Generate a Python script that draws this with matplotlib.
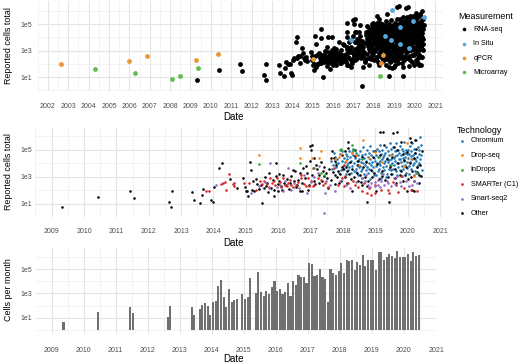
import matplotlib
matplotlib.use('Agg')
import matplotlib.pyplot as plt
from matplotlib.ticker import NullFormatter
import numpy as np

plt.rcParams['font.family'] = ['Liberation Sans', 'DejaVu Sans']

# ---------------- data (decimal year, log10 cells) ----------------
chromium = [
(2017.62,4.2),(2017.68,3.9),(2017.74,4.5),(2017.78,3.7),(2017.82,4.3),(2017.86,4.0),(2017.9,4.7),(2017.93,3.5),
(2017.96,4.2),(2017.99,3.8),(2017.71,4.8),(2017.88,3.3),(2017.65,3.6),(2017.97,4.9),(2017.8,4.05),
(2018.02,4.4),(2018.04,3.6),(2018.06,4.1),(2018.08,3.2),(2018.1,4.7),(2018.12,3.9),(2018.13,4.3),(2018.15,3.5),
(2018.17,4.0),(2018.19,4.9),(2018.2,3.7),(2018.22,4.5),(2018.24,3.3),(2018.26,4.2),(2018.28,3.8),(2018.3,4.6),
(2018.31,5.1),(2018.33,3.4),(2018.35,4.0),(2018.37,4.4),(2018.39,3.6),(2018.41,4.8),(2018.42,3.9),(2018.44,4.2),
(2018.46,3.1),(2018.47,4.6),(2018.49,3.7),(2018.14,4.55),(2018.27,4.85),(2018.4,3.35),
(2018.51,4.3),(2018.52,3.8),(2018.54,4.9),(2018.55,3.4),(2018.57,4.1),(2018.58,4.6),(2018.6,3.6),(2018.61,5.2),
(2018.63,4.0),(2018.64,3.2),(2018.66,4.4),(2018.67,3.9),(2018.69,4.7),(2018.7,3.5),(2018.72,4.2),(2018.73,5.0),
(2018.75,3.7),(2018.76,4.5),(2018.78,3.3),(2018.79,4.0),(2018.81,4.8),(2018.82,3.6),(2018.84,4.3),(2018.85,5.3),
(2018.87,3.9),(2018.88,4.6),(2018.9,3.4),(2018.91,4.1),(2018.93,4.9),(2018.94,3.7),(2018.96,4.4),(2018.97,3.1),
(2018.99,4.2),(2018.59,2.9),(2018.83,2.8),
(2019.01,4.6),(2019.02,3.8),(2019.04,5.1),(2019.05,4.0),(2019.07,3.4),(2019.08,4.5),(2019.1,4.9),(2019.11,3.6),
(2019.13,4.2),(2019.14,5.4),(2019.16,3.9),(2019.17,4.7),(2019.19,3.3),(2019.2,4.3),(2019.22,5.0),(2019.23,3.7),
(2019.25,4.5),(2019.26,4.0),(2019.28,3.5),(2019.29,4.8),(2019.31,4.2),(2019.32,5.2),(2019.34,3.8),(2019.35,4.4),
(2019.37,3.2),(2019.38,4.9),(2019.4,4.1),(2019.41,3.6),(2019.43,4.6),(2019.44,5.5),(2019.46,3.9),(2019.47,4.3),
(2019.49,3.5),(2019.03,3.1),(2019.18,2.9),(2019.33,3.0),(2019.12,4.05),(2019.27,4.65),(2019.42,4.25),(2019.48,5.05),
(2019.51,4.7),(2019.52,4.0),(2019.54,5.2),(2019.55,3.6),(2019.57,4.4),(2019.58,3.9),(2019.6,4.9),(2019.61,4.2),
(2019.63,5.5),(2019.64,3.4),(2019.66,4.6),(2019.67,4.0),(2019.69,5.0),(2019.7,3.7),(2019.72,4.3),(2019.73,4.8),
(2019.75,3.5),(2019.76,5.3),(2019.78,4.1),(2019.79,4.6),(2019.81,3.8),(2019.82,5.1),(2019.84,4.4),(2019.85,3.6),
(2019.87,4.9),(2019.88,4.2),(2019.9,5.6),(2019.91,3.9),(2019.93,4.5),(2019.94,3.3),(2019.96,5.0),(2019.97,4.1),
(2019.99,4.7),(2019.53,3.2),(2019.68,3.1),(2019.83,3.05),(2019.62,4.55),(2019.77,4.35),(2019.92,4.75),(2019.98,3.65),
(2020.01,4.4),(2020.02,5.0),(2020.04,3.8),(2020.05,4.7),(2020.07,5.3),(2020.08,4.1),(2020.1,3.6),(2020.11,4.9),
(2020.13,4.3),(2020.14,5.5),(2020.16,3.9),(2020.17,4.6),(2020.19,5.1),(2020.2,4.0),(2020.22,3.4),(2020.23,4.8),
(2020.25,5.7),(2020.26,4.2),(2020.28,3.7),(2020.29,4.5),(2020.31,5.2),(2020.32,3.9),(2020.34,4.7),(2020.35,5.0),
(2020.37,4.3),(2020.38,5.99),(2020.4,4.6),(2020.42,5.4),(2020.43,3.5),(2020.03,3.2),(2020.18,3.1),(2020.33,3.3),
(2020.09,4.55),(2020.24,4.35),(2020.36,4.05),
]

other = [
(2009.33,0.78),(2010.42,1.52),(2011.42,1.96),(2011.55,1.44),(2012.62,1.15),(2012.69,0.78),(2012.72,1.96),
(2013.35,1.89),(2013.41,1.30),(2013.57,1.07),(2013.64,1.67),(2013.67,2.11),(2013.92,1.30),(2013.98,1.15),
(2014.02,2.26),(2014.16,3.67),(2014.25,4.04),(2014.50,2.85),(2014.74,2.19),(2014.92,2.93),(2014.98,2.26),
(2015.00,1.91),(2015.05,1.96),(2015.08,1.54),(2015.13,4.11),(2015.16,3.52),(2015.19,2.00),(2015.22,2.70),
(2015.25,1.96),(2015.46,2.36),(2015.51,1.05),(2015.56,2.16),(2015.61,2.28),(2015.71,3.27),(2015.78,2.16),
(2015.86,1.59),(2015.88,2.04),(2015.94,4.01),(2016.00,1.91),(2016.04,3.20),(2016.11,2.04),(2016.36,2.53),
(2016.46,3.52),(2016.51,3.40),(2016.61,2.78),(2016.66,1.91),(2016.74,1.91),(2016.76,3.64),(2016.86,3.77),
(2016.92,2.04),(2016.97,5.32),(2016.97,4.14),(2017.02,5.00),(2017.05,5.37),(2017.12,4.38),(2017.17,3.89),
(2017.27,2.53),(2017.32,4.09),(2017.37,3.40),(2017.52,2.90),(2017.55,2.16),(2017.62,4.38),(2017.67,4.88),
(2017.72,4.38),(2017.77,4.14),(2017.77,3.15),(2017.87,2.53),(2017.97,4.63),(2017.97,3.76),(2018.07,4.88),
(2018.12,3.40),(2018.15,5.12),(2018.17,5.62),(2018.22,4.13),(2018.27,1.91),(2018.37,4.51),(2018.38,5.00),
(2018.48,4.14),(2018.48,3.89),(2018.58,4.50),(2018.73,1.12),(2018.73,2.28),(2018.98,4.88),(2019.03,1.91),
(2019.13,6.31),(2019.23,6.36),(2019.28,5.37),(2019.43,1.12),(2019.56,6.23),(2019.58,5.25),(2019.68,6.31),
(2019.68,5.00),(2019.79,5.62),(2019.89,4.26),(2019.97,1.91),(2019.99,4.87),(2020.07,5.86),(2020.09,5.62),
(2020.14,2.04),(2020.19,1.91),(2020.24,5.74),(2020.24,4.75),(2020.29,3.76),(2020.34,3.15),
(2018.62,3.70),(2018.70,4.10),(2018.86,3.50),(2018.92,4.45),(2019.06,3.95),(2019.15,4.60),(2019.21,3.40),
(2019.36,4.35),(2019.45,3.75),(2019.52,4.50),(2019.60,3.55),(2019.71,4.05),(2019.80,3.40),(2019.86,4.70),
(2019.95,3.70),(2020.06,4.00),(2020.12,3.45),(2020.21,4.40),(2020.27,5.05),(2020.39,3.90),(2020.44,4.95),
(2018.55,2.60),(2018.90,2.95),(2019.30,2.75),(2019.65,2.50),(2020.02,2.80),(2020.35,2.55),(2018.25,2.80),
(2017.85,3.45),(2017.42,3.05),(2016.25,2.35),(2016.55,2.20),(2015.35,2.45),(2015.66,2.55),(2015.98,2.45),
(2015.30,2.85),(2015.40,2.10),(2015.58,2.95),(2015.70,1.85),(2015.83,2.75),(2015.92,3.05),(2016.02,2.65),
(2016.08,2.30),(2016.15,3.10),(2016.19,2.55),(2016.28,2.85),(2016.33,2.10),(2016.40,3.05),(2016.48,2.65),
(2016.58,2.40),(2016.68,3.25),(2016.72,2.55),(2016.82,2.90),(2016.90,3.30),(2016.95,2.40),(2017.05,3.15),
(2017.10,2.70),(2017.15,2.45),(2017.20,3.55),(2017.25,3.10),(2017.35,2.70),(2017.40,3.70),(2017.48,3.25),
(2017.58,3.60),(2017.64,2.75),(2017.70,3.35),(2017.75,2.45),(2017.80,3.90),(2017.83,2.95),(2017.92,3.20),
(2017.95,2.65),(2018.00,3.55),(2018.05,2.95),(2018.09,3.75),(2018.14,2.55),(2018.19,3.20),(2018.28,3.55),
(2018.33,2.95),(2018.42,3.25),(2018.47,2.65),(2018.52,3.15),(2018.60,2.35),(2018.68,3.00),(2018.78,2.70),
(2018.95,3.30),(2019.10,2.80),(2019.20,3.05),(2019.40,2.95),(2019.50,3.20),(2019.62,2.90),(2019.75,3.15),
(2019.85,2.70),(2019.93,3.10),(2020.10,3.00),(2020.20,2.70),(2020.30,3.35),(2020.42,3.05),
]

smarter_c1 = [
(2013.77,1.96),(2013.86,1.96),(2014.23,2.48),(2014.29,2.56),(2014.35,2.60),(2014.38,2.04),(2014.47,3.22),
(2014.59,2.48),(2014.62,2.33),(2014.65,2.53),(2014.95,2.56),(2015.10,2.56),(2015.30,2.04),(2015.44,2.65),
(2015.66,2.46),(2015.76,2.90),(2015.96,2.90),(2016.21,2.41),(2016.26,2.28),(2016.36,2.78),(2016.56,2.41),
(2016.70,3.15),(2016.71,2.90),(2017.07,3.64),(2016.92,2.90),(2017.02,2.65),(2016.86,2.28),(2016.96,2.28),
(2017.12,2.36),(2017.22,2.90),(2017.32,2.78),(2017.39,2.41),(2018.02,3.89),(2018.17,2.53),(2018.02,2.28),
(2017.97,2.90),(2017.72,3.64),(2018.73,1.79),(2018.88,1.67),(2019.18,2.04),(2019.43,1.79),(2019.63,2.41),
(2019.89,2.16),(2020.09,2.04),(2019.38,2.04),(2015.86,2.65),(2016.16,2.90),(2016.41,2.41),(2017.07,2.28),
(2018.07,3.02),(2018.38,2.41),(2018.58,1.91),(2018.98,1.79),(2019.79,3.02),
(2015.50,2.45),(2015.55,2.70),(2015.72,2.20),(2015.80,2.55),(2015.90,2.35),(2016.05,2.60),(2016.10,2.25),
(2016.30,2.50),(2016.45,2.20),(2016.60,2.60),(2016.80,2.45),(2017.45,2.50),(2017.55,2.20),(2017.85,2.40),
(2018.30,2.70),(2018.45,2.20),(2018.65,2.50),(2018.80,2.15),(2019.00,2.35),(2019.55,2.60),(2019.70,1.85),
(2020.30,1.95),
]

smart_seq2 = [
(2014.08,2.41),(2015.15,1.79),(2015.71,2.16),(2016.06,2.41),(2016.16,1.91),(2016.31,3.64),(2016.41,2.04),
(2017.27,3.77),(2017.22,3.27),(2017.47,2.65),(2016.81,3.15),(2017.45,1.79),(2016.88,1.79),(2017.77,1.91),
(2018.22,2.16),(2018.58,2.90),(2018.68,2.65),(2018.78,2.41),(2018.88,2.53),(2018.98,2.28),(2019.08,2.41),
(2019.18,2.65),(2019.28,2.41),(2019.48,2.28),(2019.58,2.90),(2019.68,3.02),(2015.76,4.01),(2017.42,0.33),
(2019.08,2.78),(2019.79,2.28),(2020.14,2.41),(2020.19,2.65),
(2015.40,2.30),(2015.60,2.60),(2015.95,2.20),(2016.20,2.70),(2016.50,2.50),(2016.65,2.15),(2017.00,2.60),
(2017.10,3.00),(2017.60,2.40),(2017.90,2.70),(2018.10,2.35),(2018.40,2.60),(2018.70,3.10),(2018.85,2.20),
(2019.00,2.60),(2019.15,2.25),(2019.35,2.70),(2019.40,2.50),(2019.60,2.45),(2019.75,2.60),(2019.95,2.70),
(2020.05,2.30),(2020.30,2.50),(2020.25,3.30),(2019.25,3.20),
]

drop_seq = [
(2015.42,4.63),(2016.66,4.38),(2017.32,4.93),(2017.27,4.38),(2018.27,4.75),(2018.63,5.74),(2016.66,5.12),
(2017.05,4.38),(2017.75,4.31),(2017.87,4.50),(2018.98,4.87),(2019.99,5.49),(2020.21,3.02),
(2017.95,4.70),(2018.10,4.20),(2018.40,4.60),(2018.50,3.90),(2018.80,4.40),(2019.20,4.10),(2019.50,4.60),
(2019.90,3.80),(2020.10,4.30),
]

indrops = [
(2015.42,3.94),(2016.68,4.01),(2017.42,3.15),(2017.92,5.00),(2018.32,5.00),(2017.95,5.05),(2018.27,5.37),
(2018.33,4.99),(2017.12,3.64),(2017.32,3.27),(2020.29,3.27),(2018.60,4.30),(2019.10,4.50),(2019.50,3.90),
]

in_situ = [
(2016.87,3.80),(2018.52,4.10),(2018.84,3.80),(2018.89,6.05),(2019.30,4.75),(2019.30,3.50),
(2019.73,3.17),(2019.90,5.25),(2020.46,5.55),
]
qpcr = [
(2002.63,1.96),(2005.98,2.20),(2006.87,2.58),(2009.27,2.28),(2010.35,2.71),(2015.00,2.40),
(2018.36,2.05),(2018.45,2.70),
]
microarray = [
(2004.31,1.58),(2006.30,1.33),(2008.08,0.90),(2008.49,1.08),(2009.35,1.70),(2018.31,1.08),
]

# monthly totals: (year, month, log10 cells per month)
monthly = [
(2009,5,0.70),(2010,6,1.51),(2011,6,1.92),(2011,7,1.38),(2012,8,1.05),(2012,9,1.98),
(2013,5,1.87),(2013,6,1.22),(2013,8,1.71),(2013,9,2.06),(2013,10,2.20),(2013,11,1.98),(2013,12,1.22),
(2014,1,2.31),(2014,2,2.41),(2014,3,3.64),(2014,4,4.10),(2014,5,2.69),(2014,6,1.92),(2014,7,3.34),
(2014,8,2.33),(2014,9,2.47),(2014,10,2.53),(2014,12,2.96),
(2015,1,2.58),(2015,2,2.69),(2015,3,4.24),(2015,5,3.02),(2015,6,4.73),(2015,7,3.15),(2015,8,2.80),
(2015,9,3.18),(2015,10,2.96),(2015,11,3.52),(2015,12,4.03),
(2016,1,3.18),(2016,2,3.38),(2016,3,2.95),(2016,4,3.15),(2016,5,3.85),(2016,6,2.77),(2016,7,4.03),
(2016,8,3.72),(2016,9,4.51),(2016,10,4.32),(2016,11,4.32),(2016,12,3.89),
(2017,1,5.48),(2017,2,5.45),(2017,3,4.43),(2017,4,4.48),(2017,5,5.02),(2017,6,4.37),(2017,7,4.16),
(2017,8,2.28),(2017,9,5.00),(2017,10,4.65),(2017,11,4.48),(2017,12,4.86),
(2018,1,5.46),(2018,2,4.67),(2018,3,5.71),(2018,4,5.63),(2018,5,5.71),(2018,6,4.92),(2018,7,5.60),
(2018,8,5.33),(2018,9,6.12),(2018,10,5.24),(2018,11,5.73),(2018,12,5.73),
(2019,1,5.73),(2019,2,4.92),(2019,3,6.41),(2019,4,6.41),(2019,5,5.73),(2019,6,5.95),(2019,7,6.22),
(2019,8,6.06),(2019,9,5.87),(2019,10,6.47),(2019,11,5.95),(2019,12,6.00),
(2020,1,6.00),(2020,2,6.22),(2020,3,5.65),(2020,4,6.41),(2020,5,6.09),(2020,6,6.12),
]

measurement_labels = ['RNA-seq', 'In Situ', 'qPCR', 'Microarray']
measurement_colors = ['#000000', '#56A8DE', '#EB9535', '#66BB55']
tech_labels = ['Chromium', 'Drop-seq', 'InDrops', 'SMARTer (C1)', 'Smart-seq2', 'Other']
tech_colors = ['#1F77B4', '#FF7F0E', '#2CA02C', '#D62728', '#9467BD', '#000000']

# ---------------- figure ----------------
W, H = 520, 364
fig = plt.figure(figsize=(W / 100, H / 100), dpi=100)

def add_ax(l, t, r, b):
    return fig.add_axes([l / W, 1 - b / H, (r - l) / W, (b - t) / H])

def style(ax, xlim, ylog, years, ypad, xpad):
    ax.set_yscale('log')
    ax.set_xlim(*xlim)
    ax.set_ylim(10 ** ylog[0], 10 ** ylog[1])
    ax.set_xticks(years)
    ax.set_xticklabels([str(y) for y in years])
    ax.set_xticks([y + 0.5 for y in years[:-1]] + [years[0] - 0.5], minor=True)
    ax.set_yticks([1e1, 1e3, 1e5])
    ax.set_yticklabels(['1e1', '1e3', '1e5'])
    ax.set_yticks([1e0, 1e2, 1e4, 1e6], minor=True)
    ax.yaxis.set_minor_formatter(NullFormatter())
    ax.grid(which='major', color='#e4e4e4', lw=0.8)
    ax.grid(which='minor', color='#efefef', lw=0.5)
    ax.set_axisbelow(True)
    for s in ax.spines.values():
        s.set_visible(False)
    ax.tick_params(which='both', length=0, labelsize=5.0, labelcolor='#4d4d4d')
    ax.tick_params(axis='y', pad=ypad)
    ax.tick_params(axis='x', pad=xpad)

def split(pairs):
    x = np.array([p[0] for p in pairs])
    y = 10 ** np.array([p[1] for p in pairs])
    return x, y

# Panel 1
ax1 = add_ax(37.6, 1, 443, 91)
style(ax1, (2001.74, 2021.39), (-0.04, 6.74), list(range(2002, 2022)), 4.0, 8.8)
rna = chromium + other + smarter_c1 + smart_seq2 + drop_seq + indrops
for pairs, col in zip([rna, in_situ, qpcr, microarray], measurement_colors):
    x, y = split(pairs)
    ax1.scatter(x, y, s=12, color=col, linewidths=0, zorder=3)

# Panel 2
ax2 = add_ax(35.4, 127.6, 442, 217)
style(ax2, (2008.77, 2021.06), (0.03, 6.66), list(range(2009, 2022)), 2.6, 8.0)
for pairs, col in zip([chromium, other, smarter_c1, smart_seq2, drop_seq, indrops],
                      [tech_colors[0], tech_colors[5], tech_colors[3], tech_colors[4],
                       tech_colors[1], tech_colors[2]]):
    x, y = split(pairs)
    ax2.scatter(x, y, s=3.4, color=col, linewidths=0, zorder=3)

# Panel 3
ax3 = add_ax(35.5, 248, 436, 334)
style(ax3, (2008.77, 2021.0), (-0.32, 6.72), list(range(2009, 2022)), 2.6, 9.0)
bx = np.array([m[0] + (m[1] - 0.5) / 12 for m in monthly])
bv = 10 ** np.array([m[2] for m in monthly])
ax3.bar(bx, bv - 1, bottom=1, width=0.78 / 12, color='#707070', linewidth=0, zorder=3)

# axis titles
def ftext(x, y, s, **kw):
    fig.text(x / W, 1 - y / H, s, **kw)

for yc, lab in [(45.5, 'Reported cells total'), (171.5, 'Reported cells total'), (290, 'Cells per month')]:
    ftext(8.5, yc, lab, rotation=90, ha='center', va='center', fontsize=6.4, color='black')
for yc in [116.5, 242.5, 358.5]:
    ftext(234, yc, 'Date', ha='center', va='center', fontsize=7.0, color='black')

# legends
ov = fig.add_axes([0, 0, 1, 1], zorder=10)
ov.set_xlim(0, W)
ov.set_ylim(H, 0)
ov.axis('off')

ftext(458, 16.7, 'Measurement', ha='left', va='center', fontsize=6.4)
for i, (lab, col) in enumerate(zip(measurement_labels, measurement_colors)):
    yy = 29.3 + i * 14.35
    ov.plot([464], [yy], 'o', ms=2.6, color=col, mew=0)
    ftext(473.3, yy, lab, ha='left', va='center', fontsize=5.2)

ftext(456.7, 130, 'Technology', ha='left', va='center', fontsize=6.4)
for i, (lab, col) in enumerate(zip(tech_labels, tech_colors)):
    yy = 141 + i * 14.45
    ov.plot([461.7], [yy], 'o', ms=1.9, color=col, mew=0)
    ftext(470.7, yy, lab, ha='left', va='center', fontsize=5.2)

fig.savefig('out.png', dpi=100)
